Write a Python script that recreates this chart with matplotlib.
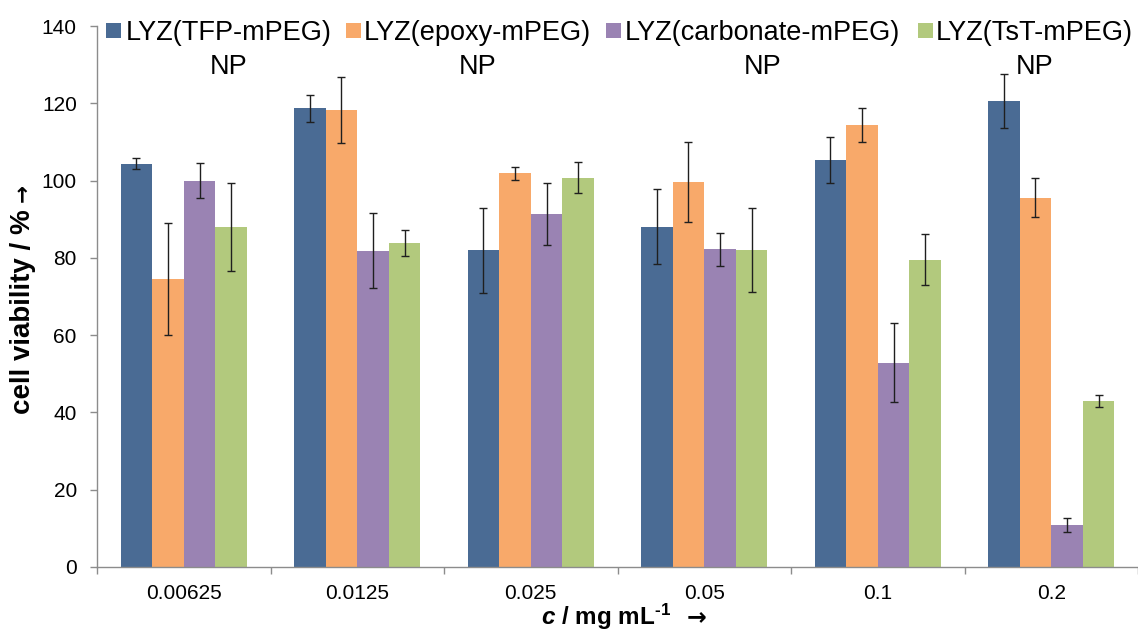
import matplotlib
matplotlib.use("Agg")
import matplotlib.pyplot as plt
from matplotlib.patches import Rectangle
import numpy as np

categories = ["0.00625", "0.0125", "0.025", "0.05", "0.1", "0.2"]
series_names = ["LYZ(TFP-mPEG)", "LYZ(epoxy-mPEG)", "LYZ(carbonate-mPEG)", "LYZ(TsT-mPEG)"]
tfp = [104.4, 118.7, 82.0, 88.1, 105.4, 120.5]
tfp_err = [1.5, 3.5, 11.0, 9.8, 6.0, 7.0]
epoxy = [74.6, 118.2, 101.9, 99.7, 114.4, 95.6]
epoxy_err = [14.5, 8.6, 1.7, 10.4, 4.5, 5.0]
carbonate = [100.0, 81.9, 91.3, 82.2, 52.9, 10.9]
carbonate_err = [4.6, 9.8, 8.0, 4.2, 10.3, 1.8]
tst = [87.9, 83.8, 100.7, 82.0, 79.5, 43.0]
tst_err = [11.4, 3.4, 4.0, 10.8, 6.6, 1.5]
y_ticks = [0, 20, 40, 60, 80, 100, 120, 140]

colors = ["#4A6B94", "#F8A96A", "#9A83B3", "#B2C97D"]

plt.rcParams["font.family"] = ["Liberation Sans", "DejaVu Sans"]
plt.rcParams["mathtext.fontset"] = "custom"
plt.rcParams["mathtext.rm"] = "Liberation Sans:bold"
plt.rcParams["mathtext.it"] = "Liberation Sans:italic:bold"
plt.rcParams["mathtext.bf"] = "Liberation Sans:bold"

W, H = 1138, 630
fig = plt.figure(figsize=(W / 100, H / 100), dpi=100)
ax = fig.add_axes([97 / W, 63 / H, (W - 97) / W, (567 - 26) / H])

def px(x, y):
    return x / W, (H - y) / H

values = [tfp, epoxy, carbonate, tst]
errors = [tfp_err, epoxy_err, carbonate_err, tst_err]
x = np.arange(len(categories))
bw = 1 / 5.5
for i, (vals, errs) in enumerate(zip(values, errors)):
    ax.bar(x + (i - 1.5) * bw, vals, width=bw, color=colors[i], linewidth=0,
           yerr=errs, error_kw=dict(ecolor="#1f1f1f", elinewidth=1.0, capsize=2.6, capthick=1.0),
           zorder=2)

ax.set_xlim(-0.5, len(categories) - 0.5)
ax.set_ylim(0, 140)
ax.set_yticks(y_ticks)
ax.set_yticklabels([str(t) for t in y_ticks])
ax.set_xticks(np.arange(len(categories) + 1) - 0.5)
ax.set_xticklabels([])
ax.set_xticks(x, minor=True)
ax.set_xticklabels(categories, minor=True)

gray = "#8C8C8C"
for s in ["top", "right"]:
    ax.spines[s].set_visible(False)
for s in ["left", "bottom"]:
    ax.spines[s].set_color(gray)
    ax.spines[s].set_linewidth(1.0)
ax.tick_params(axis="y", direction="out", length=5, width=1.0, color=gray,
               labelsize=15, pad=9.5, labelcolor="black")
ax.tick_params(axis="x", which="major", direction="out", length=5, width=1.0, color=gray)
ax.tick_params(axis="x", which="minor", length=0, labelsize=15, pad=12.5, labelcolor="black")

# Legend (manual, two-line entries)
legend_sq = [106, 346, 606, 918]
legend_tx = [126, 364, 625, 936]
fig.canvas.draw()
r = fig.canvas.get_renderer()
for i, name in enumerate(series_names):
    x0, y0 = px(legend_sq[i], 38)
    fig.patches.append(Rectangle((x0, y0), 15 / W, 15 / H, transform=fig.transFigure,
                                 facecolor=colors[i], edgecolor="none"))
    t = fig.text(*px(legend_tx[i], 39.5), name, fontsize=19.5, ha="left", va="baseline")
    bb = t.get_window_extent(renderer=r)
    cx = (bb.x0 + bb.x1) / 2 / W
    fig.text(cx, (H - 74) / H, "NP", fontsize=19.5, ha="center", va="baseline")

# x-axis title
fig.text(*px(606, 624.5), r"$c$ / mg mL$^{\text{-1}}$", fontsize=17.5, fontweight="bold",
         ha="center", va="baseline")
fig.text(*px(697, 624.5), "→", fontsize=17, fontweight="bold", family="DejaVu Sans",
         ha="center", va="baseline")
# y-axis title
fig.text(*px(23, 312), "cell viability / %", fontsize=20, fontweight="bold",
         rotation=90, ha="center", va="center")
fig.text(*px(22, 193), "→", fontsize=15.5, fontweight="bold", family="DejaVu Sans",
         rotation=90, ha="center", va="center")

fig.savefig("out.png", dpi=100)
